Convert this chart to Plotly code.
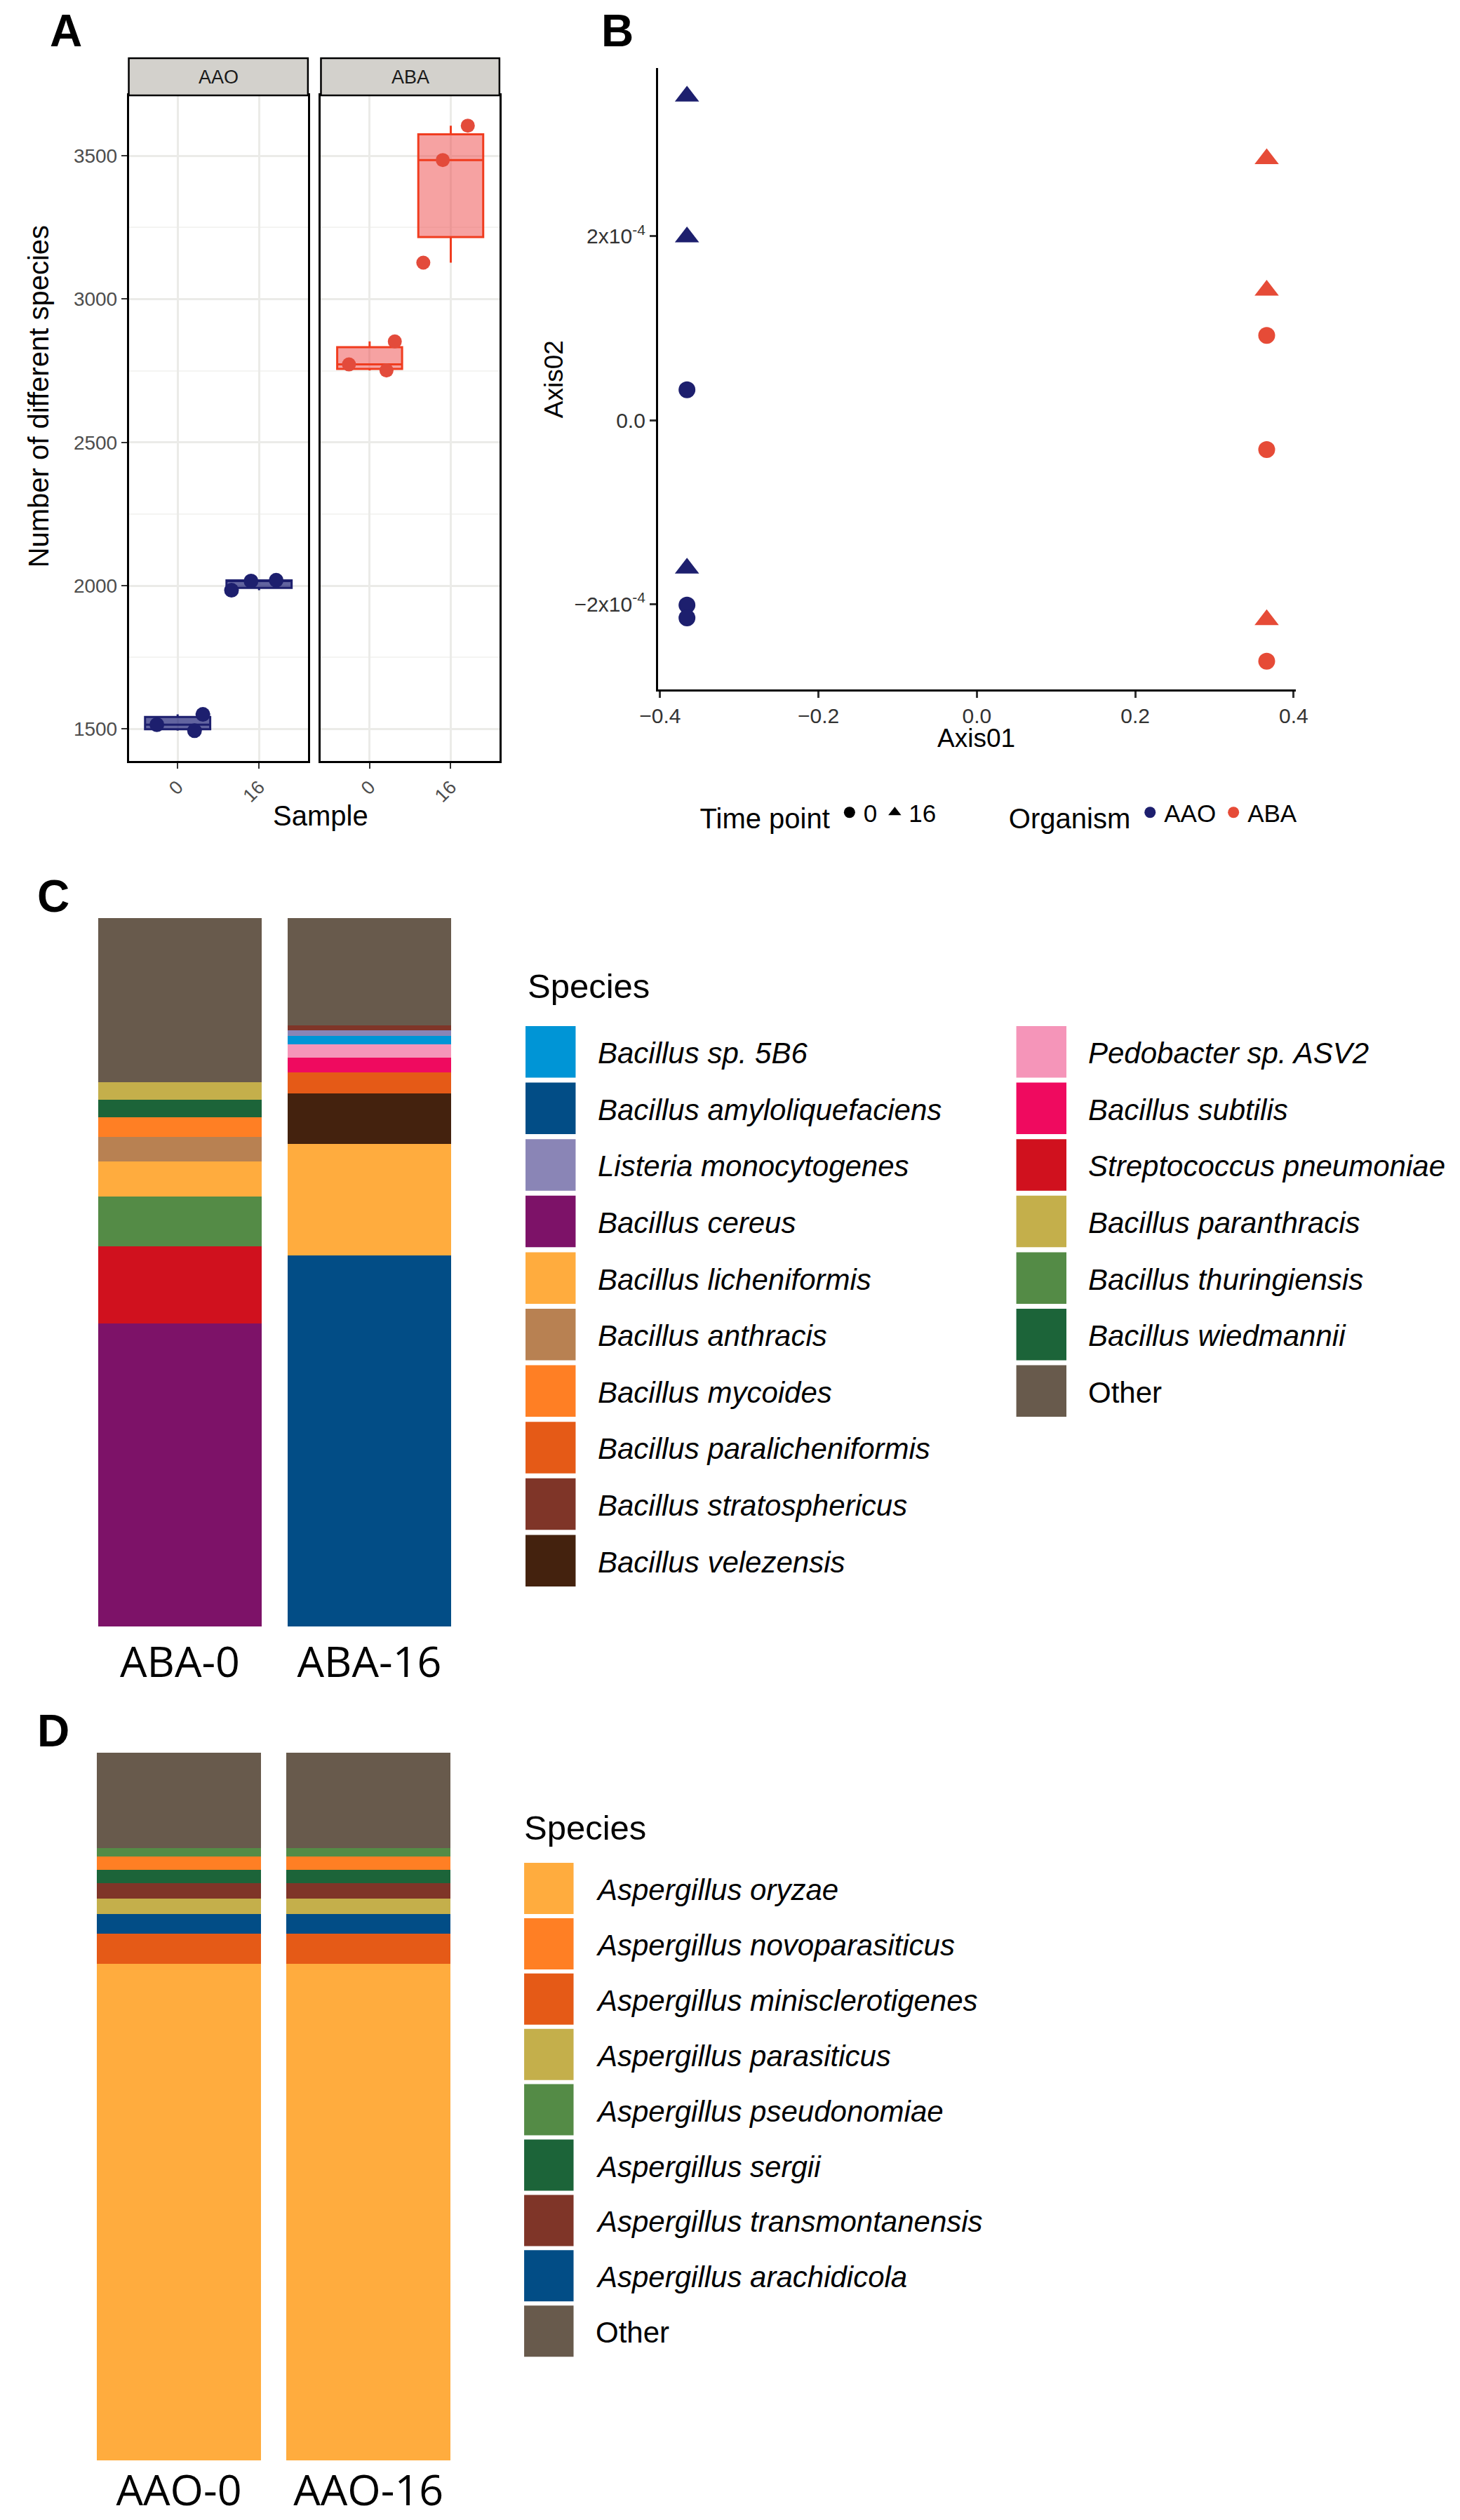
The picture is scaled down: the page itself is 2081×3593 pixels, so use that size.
import plotly.graph_objects as go

W, H = 2081, 3593
def px(x): return x / W
def py(y): return 1 - y / H

FONT = "Liberation Sans, Arial, sans-serif"

# ---------------- Panel A data (number of species) ----------------
time_points = ["0", "16"]
aao_t0 = [1551, 1494, 1515]
aao_t16 = [2016, 2019, 1984]
aba_t0 = [2751, 2772, 2852]
aba_t16 = [3605, 3127, 3485]
a_yticks = [1500, 2000, 2500, 3000, 3500]

# ---------------- Panel B data (PCoA) ----------------
aao_ax1_t0 = [-0.366, -0.366, -0.366]
aao_ax2_t0 = [0.33e-4, -2.01e-4, -2.15e-4]
aao_ax1_t16 = [-0.366, -0.366, -0.366]
aao_ax2_t16 = [3.52e-4, 1.99e-4, -1.61e-4]
aba_ax1_t0 = [0.366, 0.366, 0.366]
aba_ax2_t0 = [0.92e-4, -0.32e-4, -2.62e-4]
aba_ax1_t16 = [0.366, 0.366, 0.366]
aba_ax2_t16 = [2.84e-4, 1.41e-4, -2.17e-4]
b_xticks = [-0.4, -0.2, 0.0, 0.2, 0.4]
b_xticktext = ["\u22120.4", "\u22120.2", "0.0", "0.2", "0.4"]
b_yticks = [-2e-4, 0.0, 2e-4]
b_yticktext = ["\u22122x10<sup>-4</sup>", "0.0", "2x10<sup>-4</sup>"]

# ---------------- Panel C data (ABA composition, %) ----------------
aba_samples = ["ABA-0", "ABA-16"]
bac_species = ["Bacillus sp. 5B6", "Bacillus amyloliquefaciens", "Listeria monocytogenes",
               "Bacillus cereus", "Bacillus licheniformis", "Bacillus anthracis",
               "Bacillus mycoides", "Bacillus paralicheniformis", "Bacillus stratosphericus",
               "Bacillus velezensis", "Pedobacter sp. ASV2", "Bacillus subtilis",
               "Streptococcus pneumoniae", "Bacillus paranthracis", "Bacillus thuringiensis",
               "Bacillus wiedmannii", "Other"]
bac_colors = ["#0095D6", "#024D86", "#8A85B6", "#7D1268", "#FFAC3E", "#B88152",
              "#FF7F24", "#E55A17", "#7F3528", "#44220E", "#F595B9", "#EF0A5F",
              "#D0111E", "#C4AF4B", "#548B46", "#1C6439", "#685A4C"]
aba0_pct = [0, 0, 0, 42.8, 4.9, 3.5, 2.8, 0, 0, 0, 0, 0, 10.9, 2.4, 7.0, 2.5, 23.2]
aba16_pct = [1.2, 52.3, 0.8, 0, 15.8, 0, 0, 2.9, 0.7, 7.1, 1.9, 2.1, 0, 0, 0, 0, 15.1]
bac_stack_order = ["Bacillus cereus", "Streptococcus pneumoniae", "Bacillus thuringiensis",
                   "Bacillus amyloliquefaciens", "Bacillus licheniformis", "Bacillus anthracis",
                   "Bacillus mycoides", "Bacillus wiedmannii", "Bacillus paranthracis",
                   "Bacillus velezensis", "Bacillus paralicheniformis", "Bacillus subtilis",
                   "Pedobacter sp. ASV2", "Bacillus sp. 5B6", "Listeria monocytogenes",
                   "Bacillus stratosphericus", "Other"]

# ---------------- Panel D data (AAO composition, %) ----------------
aao_samples = ["AAO-0", "AAO-16"]
asp_species = ["Aspergillus oryzae", "Aspergillus novoparasiticus",
               "Aspergillus minisclerotigenes", "Aspergillus parasiticus",
               "Aspergillus pseudonomiae", "Aspergillus sergii",
               "Aspergillus transmontanensis", "Aspergillus arachidicola", "Other"]
asp_colors = ["#FFAC3E", "#FF7F24", "#E55A17", "#C4AF4B", "#548B46", "#1C6439",
              "#7F3528", "#024D86", "#685A4C"]
aao0_pct = [70.2, 1.9, 4.3, 2.2, 1.2, 1.9, 2.1, 2.8, 13.5]
aao16_pct = [70.2, 1.9, 4.3, 2.2, 1.2, 1.9, 2.1, 2.8, 13.5]
asp_stack_order = ["Aspergillus oryzae", "Aspergillus minisclerotigenes",
                   "Aspergillus arachidicola", "Aspergillus parasiticus",
                   "Aspergillus transmontanensis", "Aspergillus sergii",
                   "Aspergillus novoparasiticus", "Aspergillus pseudonomiae", "Other"]

NAVY = "#1D1F6E"
RED = "#E64B37"

fig = go.Figure()

# ---------- Panel A traces ----------
fig.add_trace(go.Box(
    x=[time_points[0]] * len(aao_t0) + [time_points[1]] * len(aao_t16),
    y=aao_t0 + aao_t16, xaxis="x", yaxis="y",
    boxpoints="all", jitter=1.0, pointpos=0, width=0.8, whiskerwidth=0,
    marker=dict(color=NAVY, size=21), line=dict(color=NAVY, width=3),
    fillcolor="rgba(32,34,120,0.7)", showlegend=False))
fig.add_trace(go.Box(
    x=[time_points[0]] * len(aba_t0) + [time_points[1]] * len(aba_t16),
    y=aba_t0 + aba_t16, xaxis="x2", yaxis="y2",
    boxpoints="all", jitter=1.0, pointpos=0, width=0.8, whiskerwidth=0,
    marker=dict(color="#E34B3B", size=20), line=dict(color="#F03C1F", width=3),
    fillcolor="rgba(238,70,70,0.5)", showlegend=False))

a_all = aao_t0 + aao_t16 + aba_t0 + aba_t16
a_span = max(a_all) - min(a_all)
a_range = [min(a_all) - 0.05 * a_span, max(a_all) + 0.05 * a_span]

# ---------- Panel B traces ----------
def add_pcoa(xs, ys, color, symbol, size):
    fig.add_trace(go.Scatter(x=xs, y=ys, mode="markers", xaxis="x3", yaxis="y3",
                             marker=dict(color=color, symbol=symbol, size=size, line=dict(width=0)),
                             showlegend=False))

add_pcoa(aao_ax1_t0, aao_ax2_t0, NAVY, "circle", 24)
add_pcoa(aao_ax1_t16, aao_ax2_t16, NAVY, "triangle-up", 30)
add_pcoa(aba_ax1_t0, aba_ax2_t0, RED, "circle", 24)
add_pcoa(aba_ax1_t16, aba_ax2_t16, RED, "triangle-up", 30)

bx = aao_ax1_t0 + aao_ax1_t16 + aba_ax1_t0 + aba_ax1_t16
by = aao_ax2_t0 + aao_ax2_t16 + aba_ax2_t0 + aba_ax2_t16
bx_pad = 0.05 * (max(bx) - min(bx))
by_pad = 0.05 * (max(by) - min(by))

# legend entries for panel B
for name, sym in [("0", "circle"), ("16", "triangle-up")]:
    fig.add_trace(go.Scatter(x=[None], y=[None], mode="markers", name=name, xaxis="x3", yaxis="y3",
                             marker=dict(color="black", symbol=sym, size=22), legend="legend"))
for name, col in [("AAO", NAVY), ("ABA", RED)]:
    fig.add_trace(go.Scatter(x=[None], y=[None], mode="markers", name=name, xaxis="x3", yaxis="y3",
                             marker=dict(color=col, symbol="circle", size=22), legend="legend2"))

# ---------- Panel C / D bars ----------
def add_stack(species, colors, v0, v1, samples, order, xa, ya):
    t0, t1 = sum(v0), sum(v1)
    for sp in order:
        i = species.index(sp)
        fig.add_trace(go.Bar(x=samples, y=[v0[i] / t0 * 100, v1[i] / t1 * 100],
                             xaxis=xa, yaxis=ya, marker=dict(color=colors[i], line=dict(width=0)),
                             name=sp, showlegend=False))

add_stack(bac_species, bac_colors, aba0_pct, aba16_pct, aba_samples, bac_stack_order, "x4", "y4")
add_stack(asp_species, asp_colors, aao0_pct, aao16_pct, aao_samples, asp_stack_order, "x5", "y5")

# ---------- layout ----------
shapes = []
annotations = []

grid_major = "#EBEBE8"
grid_minor = "#F4F4F2"
a_x_common = dict(type="category", categoryorder="array", categoryarray=time_points,
                  range=[-0.6, 1.6], showgrid=True, gridcolor=grid_major, gridwidth=3,
                  showline=True, mirror=True, linecolor="black", linewidth=2.5,
                  ticks="outside", ticklen=8, tickwidth=2, tickcolor="#333333",
                  tickangle=-45, tickfont=dict(size=27, color="#4D4D4D", family=FONT),
                  zeroline=False)
a_y_common = dict(range=a_range, tickvals=a_yticks, showgrid=True, gridcolor=grid_major,
                  gridwidth=3, showline=True, mirror=True, linecolor="black", linewidth=2.5,
                  zeroline=False,
                  minor=dict(dtick=250, tick0=1500, showgrid=True, gridcolor=grid_minor, gridwidth=1.5,
                             ticks=""))

layout = dict(
    width=W, height=H, autosize=False,
    margin=dict(l=0, r=0, t=0, b=0),
    paper_bgcolor="white", plot_bgcolor="white",
    font=dict(family=FONT, color="black"),
    barmode="stack", bargap=0.134,
    xaxis=dict(domain=[px(160), px(421)], anchor="y", **a_x_common),
    yaxis=dict(domain=[py(1085), py(136)], anchor="x", ticks="outside", ticklen=8, tickwidth=2,
               tickcolor="#333333", tickfont=dict(size=28, color="#4D4D4D"), **a_y_common),
    xaxis2=dict(domain=[px(440), px(700)], anchor="y2", **a_x_common),
    yaxis2=dict(domain=[py(1085), py(136)], anchor="x2", showticklabels=False, ticks="",
                **a_y_common),
    xaxis3=dict(domain=[px(931), px(1860)], anchor="y3",
                range=[min(bx) - bx_pad, max(bx) + bx_pad],
                tickvals=b_xticks, ticktext=b_xticktext, showgrid=False, zeroline=False,
                showline=True, linecolor="black", linewidth=3,
                ticks="outside", ticklen=9, tickwidth=2.5, tickcolor="#333333",
                tickfont=dict(size=30, color="#333333")),
    yaxis3=dict(domain=[py(983), py(97)], anchor="x3",
                range=[min(by) - by_pad, max(by) + by_pad],
                tickvals=b_yticks, ticktext=b_yticktext, showgrid=False, zeroline=False,
                showline=True, linecolor="black", linewidth=3,
                ticks="outside", ticklen=9, tickwidth=2.5, tickcolor="#333333",
                tickfont=dict(size=30, color="#333333")),
    xaxis4=dict(domain=[px(68.9), px(676.1)], anchor="y4", type="category",
                range=[-0.6, 1.6], showgrid=False, showline=False, zeroline=False, ticks="",
                ticklabelstandoff=10,
                tickfont=dict(size=61, family="Open Sans, Noto Sans, sans-serif", color="black")),
    yaxis4=dict(domain=[py(2319), py(1309)], anchor="x4", range=[0, 100], visible=False),
    xaxis5=dict(domain=[px(67.3), px(674.9)], anchor="y5", type="category",
                range=[-0.6, 1.6], showgrid=False, showline=False, zeroline=False, ticks="",
                ticklabelstandoff=2,
                tickfont=dict(size=61, family="Open Sans, Noto Sans, sans-serif", color="black")),
    yaxis5=dict(domain=[py(3508), py(2499)], anchor="x5", range=[0, 100], visible=False),
    legend=dict(orientation="h", traceorder="normal", x=px(990), xanchor="left",
                y=py(1160), yanchor="middle",
                title=dict(text="Time point", font=dict(size=40), side="left"),
                font=dict(size=35), bgcolor="rgba(0,0,0,0)", itemsizing="trace"),
    legend2=dict(orientation="h", traceorder="normal", x=px(1440), xanchor="left",
                 y=py(1160), yanchor="middle",
                 title=dict(text="Organism", font=dict(size=40), side="left"),
                 font=dict(size=35), bgcolor="rgba(0,0,0,0)", itemsizing="trace"),
)

# facet strips for panel A
for (x0, x1), label in zip([(160, 421), (440, 700)], ["AAO", "ABA"]):
    shapes.append(dict(type="rect", xref="paper", yref="paper", x0=px(x0), x1=px(x1),
                       y0=py(136), y1=py(83), fillcolor="#D3D1CC",
                       line=dict(color="black", width=2.5), layer="above"))
    annotations.append(dict(xref="paper", yref="paper", x=px((x0 + x1) / 2), y=py(110),
                            text=label, showarrow=False, xanchor="center", yanchor="middle",
                            font=dict(size=27, color="#1A1A1A")))

# axis titles panel A
annotations.append(dict(xref="paper", yref="paper", x=px(440), y=py(1163), text="Sample",
                        showarrow=False, xanchor="center", yanchor="middle", font=dict(size=40)))
annotations.append(dict(xref="paper", yref="paper", x=px(29), y=py(565),
                        text="Number of different species", textangle=-90,
                        showarrow=False, xanchor="center", yanchor="middle", font=dict(size=40)))
# axis titles panel B
annotations.append(dict(xref="paper", yref="paper", x=px(1395), y=py(1053), text="Axis01",
                        showarrow=False, xanchor="center", yanchor="middle", font=dict(size=37)))
annotations.append(dict(xref="paper", yref="paper", x=px(779), y=py(541), text="Axis02",
                        textangle=-90, showarrow=False, xanchor="center", yanchor="middle",
                        font=dict(size=37)))

# panel letters
for letter, (lx, ly) in zip("ABCD", [(43, 44), (846, 44), (25, 1278), (25, 2468)]):
    annotations.append(dict(xref="paper", yref="paper", x=px(lx), y=py(ly),
                            text="<b>" + letter + "</b>", showarrow=False,
                            xanchor="left", yanchor="middle",
                            font=dict(size=64, family=FONT, color="black")))

# manual species legends (large keys)
def species_legend(species, colors, title_xy, cols, key_w, key_h, row_top0, pitch, text_gap):
    tx, ty = title_xy
    annotations.append(dict(xref="paper", yref="paper", x=px(tx), y=py(ty), text="Species",
                            showarrow=False, xanchor="left", yanchor="middle",
                            font=dict(size=49, color="black")))
    idx = 0
    for kx0, n in cols:
        for r in range(n):
            sp, col = species[idx], colors[idx]
            top = row_top0 + r * pitch
            shapes.append(dict(type="rect", xref="paper", yref="paper",
                               x0=px(kx0), x1=px(kx0 + key_w), y0=py(top + key_h), y1=py(top),
                               fillcolor=col, line=dict(width=0)))
            label = sp if sp == "Other" else "<i>" + sp + "</i>"
            annotations.append(dict(xref="paper", yref="paper", x=px(kx0 + key_w + text_gap),
                                    y=py(top + key_h / 2 + 2), text=label, showarrow=False,
                                    xanchor="left", yanchor="middle",
                                    font=dict(size=42, color="black")))
            idx += 1

species_legend(bac_species, bac_colors, (739, 1406), [(738, 10), (1453, 7)],
               73, 73.5, 1463, 80.6, 30)
species_legend(asp_species, asp_colors, (734, 2606), [(736, 9)],
               72, 73, 2656, 78.9, 30)

layout["shapes"] = shapes
layout["annotations"] = annotations
fig.update_layout(**layout)

fig.write_html("out.html", config={"displayModeBar": False})

# remove the default page margin so the figure sits at the window's top-left corner
with open("out.html", "r", encoding="utf-8") as f:
    html = f.read()
html = html.replace("<head>", "<head><style>html,body{margin:0;padding:0;overflow:hidden;}</style>", 1)
with open("out.html", "w", encoding="utf-8") as f:
    f.write(html)
